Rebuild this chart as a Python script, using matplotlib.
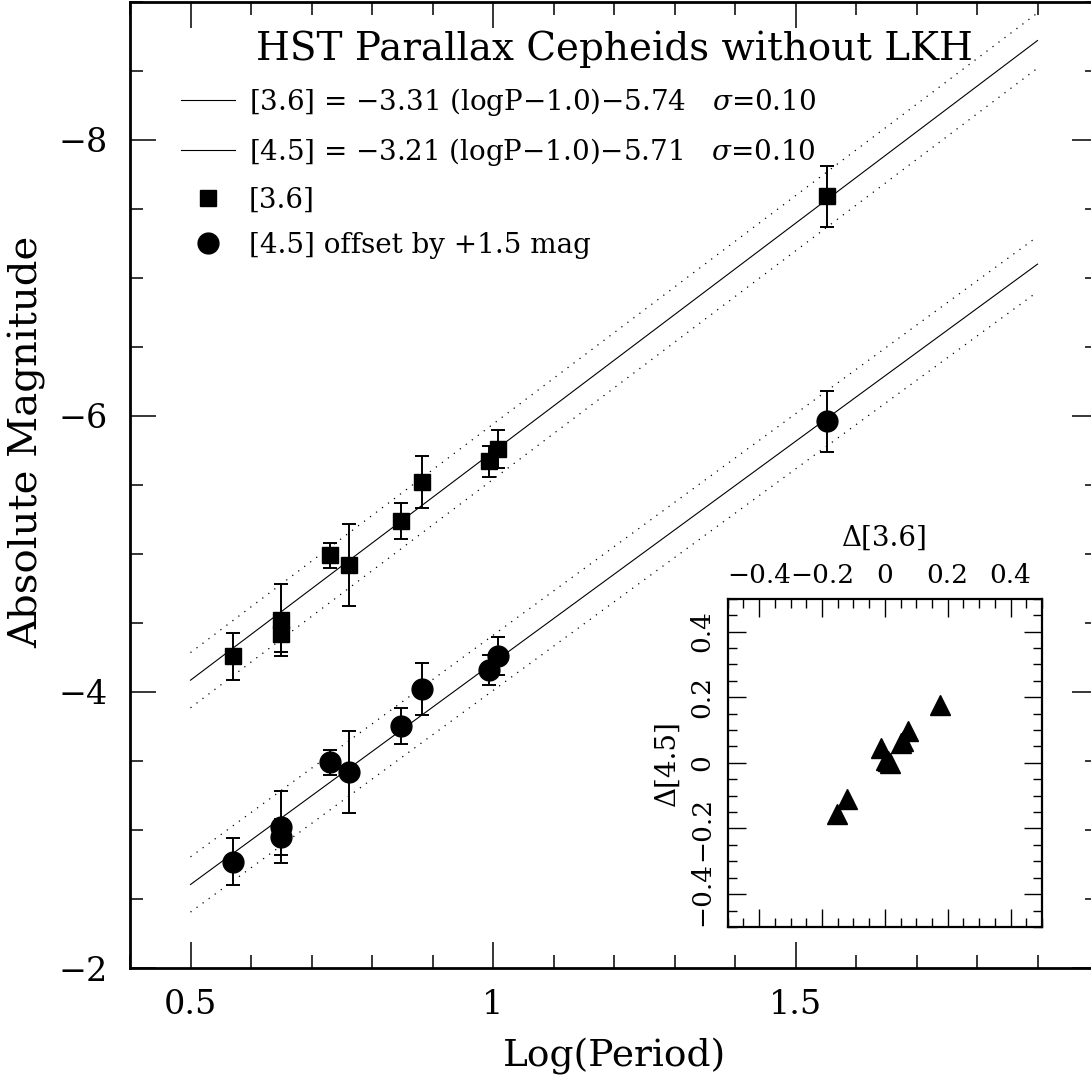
import numpy as np
import matplotlib.pyplot as plt
from matplotlib.lines import Line2D
from matplotlib.ticker import MultipleLocator, FixedLocator, FuncFormatter

plt.rcParams['font.family'] = 'DejaVu Serif'
plt.rcParams['mathtext.fontset'] = 'dejavuserif'

# HST parallax Cepheids
logp = [0.571, 0.649, 0.649, 0.730, 0.762, 0.848, 0.882, 0.993, 1.008, 1.552]
mag36 = [-4.26, -4.52, -4.42, -4.99, -4.92, -5.24, -5.52, -5.67, -5.76, -7.59]
mag45_off = [-2.77, -3.02, -2.95, -3.49, -3.42, -3.75, -4.02, -4.16, -4.26, -5.96]  # [4.5] + 1.5 mag
err = [0.17, 0.26, 0.13, 0.09, 0.30, 0.13, 0.19, 0.11, 0.14, 0.22]

# P-L fits
slope36, zp36 = -3.31, -5.74
slope45, zp45 = -3.21, -5.71
sigma = 0.10
offset45 = 1.5
fit_range = [0.5, 1.9]
xticks = [0.5, 1.0, 1.5]

# residuals for the inset
d36 = [0.175, 0.074, 0.058, 0.052, -0.012, 0.003, 0.016, 0.010, -0.120, -0.151]
d45 = [0.175, 0.097, 0.065, 0.060, 0.045, 0.010, 0.000, 0.005, -0.110, -0.157]


def fmt_num(v, pos=None):
    v = round(v, 3) + 0.0
    return f'{v:g}'.replace('-', '\u2212')


fig = plt.figure(figsize=(10.91, 10.76), dpi=100)
ax = fig.add_axes([0.11916, 0.10037, 0.88726, 0.89801])

# fit lines with 2 sigma dotted bands
xf = np.array(fit_range)
for slope, zp, off in [(slope36, zp36, 0.0), (slope45, zp45, offset45)]:
    yf = slope * (xf - 1.0) + zp + off
    ax.plot(xf, yf, color='k', lw=0.8)
    ax.plot(xf, yf - 2 * sigma, color='k', lw=0.9, ls=(0, (1, 5)))
    ax.plot(xf, yf + 2 * sigma, color='k', lw=0.9, ls=(0, (1, 5)))

ax.errorbar(logp, mag36, yerr=err, fmt='s', color='k', ms=11,
            capsize=5, elinewidth=1.4, capthick=1.4)
ax.errorbar(logp, mag45_off, yerr=err, fmt='o', color='k', ms=15,
            capsize=5, elinewidth=1.4, capthick=1.4)

ax.set_xlim(0.4, 2.0)
ax.set_ylim(-2, -9)
ax.xaxis.set_major_locator(FixedLocator(xticks))
ax.xaxis.set_minor_locator(MultipleLocator(0.1))
ax.yaxis.set_major_locator(MultipleLocator(2))
ax.yaxis.set_minor_locator(MultipleLocator(0.5))
ax.xaxis.set_major_formatter(FuncFormatter(fmt_num))
ax.yaxis.set_major_formatter(FuncFormatter(fmt_num))
ax.tick_params(which='both', direction='in', top=True, right=True, width=1.1,
               labelsize=24)
ax.tick_params(which='major', length=18.7)
ax.tick_params(which='minor', length=9.4)
ax.tick_params(axis='y', pad=15.8)
ax.tick_params(axis='x', pad=15)
for s in ax.spines.values():
    s.set_linewidth(2)

ax.set_xlabel('Log(Period)', fontsize=27, labelpad=12)
ax.set_ylabel('Absolute Magnitude', fontsize=29)
ax.yaxis.set_label_coords(-0.087, 0.544)

ax.text(0.5, 0.9397, 'HST Parallax Cepheids without LKH', transform=ax.transAxes,
        ha='center', va='baseline', fontsize=28)

lab36 = f'[3.6] = {fmt_num(slope36)} (logP\u22121.0)\u2212{abs(zp36):.2f}   $\\sigma$={sigma:.2f}'
lab45 = f'[4.5] = {fmt_num(slope45)} (logP\u22121.0)\u2212{abs(zp45):.2f}   $\\sigma$={sigma:.2f}'
handles = [Line2D([], [], color='k', lw=0.8),
           Line2D([], [], color='k', lw=0.8),
           Line2D([], [], ls='none', marker='s', color='k', ms=11),
           Line2D([], [], ls='none', marker='o', color='k', ms=15)]
labels = [lab36, lab45, '[3.6]', f'[4.5] offset by +{offset45} mag']
ax.legend(handles, labels, loc='upper left', bbox_to_anchor=(0.0522, 0.913),
          borderaxespad=0, borderpad=0, frameon=False, fontsize=20,
          handlelength=1.96, handletextpad=0.5, labelspacing=0.66)

# inset: residuals
ins = fig.add_axes([0.667, 0.1385, 0.2881, 0.3051])
ins.plot(d36, d45, ls='none', marker='^', color='k', ms=14)
ins.set_xlim(-0.5, 0.5)
ins.set_ylim(-0.5, 0.5)
for a in (ins.xaxis, ins.yaxis):
    a.set_major_locator(MultipleLocator(0.2))
    a.set_minor_locator(MultipleLocator(0.05))
    a.set_major_formatter(FuncFormatter(fmt_num))
ins.xaxis.set_label_position('top')
ins.tick_params(which='both', direction='in', top=True, bottom=True, left=True,
                right=True, labeltop=True, labelbottom=False, width=1.0,
                labelsize=19)
ins.tick_params(which='major', length=13)
ins.tick_params(which='minor', length=6.5)
ins.tick_params(axis='y', labelrotation=90, pad=9.5)
ins.tick_params(axis='x', pad=8)
plt.setp(ins.get_yticklabels(), va='center')
for s in ins.spines.values():
    s.set_linewidth(1.6)
ins.set_xlabel('\u0394[3.6]', fontsize=20, labelpad=12)
ins.set_ylabel('\u0394[4.5]', fontsize=20, labelpad=6)

fig.savefig('out.png', dpi=100)
